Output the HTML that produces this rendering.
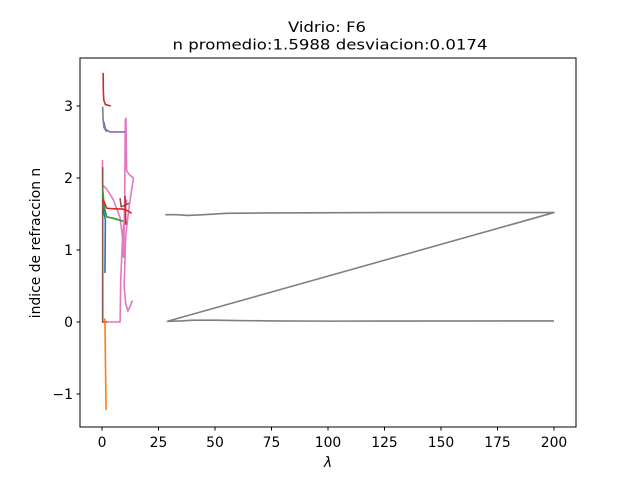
<!DOCTYPE html>
<html><head><meta charset="utf-8">
<style>body{margin:0;background:#fff}svg{display:block;font-family:"DejaVu Sans","Liberation Sans",sans-serif}</style>
</head><body>
<svg id="c" width="640" height="480"></svg>
<script>
const xTicks=[0,25,50,75,100,125,150,175,200];
const yTicks=[-1,0,1,2,3];
const yTickLabels=["−1","0","1","2","3"];
const redTopX=[0.5,0.6,0.8,1.5,3.9], redTopY=[3.46,3.2,3.08,3.02,3.0];
const grayTopX=[0.3,0.5,0.9,2.1], grayTopY=[2.99,2.8,2.7,2.64];
const purpleX=[0.9,1.5,3.5,10.2], purpleY=[2.78,2.68,2.64,2.64];
const pinkAX=[0.2,0.3,2,5,8,9,9.5,10,10.3,10.6,10.9,12,13.9,12,10.5,9.8,10.5,11.5,13.5];
const pinkAY=[2.25,1.9,1.85,1.7,1.45,1.2,0.9,1.6,2.8,2.83,2.1,2.05,2.0,1.6,1.2,0.5,0.25,0.15,0.3];
const pinkBX=[0.2,0.3,0.3,8,8.3,9,10,11];
const pinkBY=[0.7,0.7,0,0,0.6,1.1,1.5,1.7];
const brownX=[0.3,0.3,0.3,2.2], brownY=[2.15,1.3,0,0];
const brown2X=[8,8.5,10,12], brown2Y=[1.72,1.6,1.62,1.65];
const redMidX=[0.5,2.1,6,9,11,13.1], redMidY=[1.7,1.58,1.57,1.57,1.55,1.51];
const redVX=[10.2,10.4,10.5], redVY=[1.75,1.55,1.35];
const greenX=[0.3,1,2.1,5,9.3], greenY=[1.85,1.6,1.46,1.44,1.4];
const blueX=[0.5,1,1.5,1.3], blueY=[1.6,1.5,1.42,0.68];
const orangeX=[1.2,1.3,1.8], orangeY=[0.05,0.0,-1.22];
const grayBigX=[28,33,38,45,55,75,125,200,29,35,40,50,60,75,100,200];
const grayBigY=[1.49,1.49,1.48,1.49,1.51,1.515,1.52,1.52,0.01,0.015,0.025,0.025,0.02,0.015,0.012,0.015];
const series=[
 ["gray-big",grayBigX,grayBigY,"#7f7f7f"],
 ["pink-a",pinkAX,pinkAY,"#e377c2"],["pink-b",pinkBX,pinkBY,"#e377c2"],
 ["brown",brownX,brownY,"#8c564b"],["brown-2",brown2X,brown2Y,"#8c564b"],
 ["orange",orangeX,orangeY,"#ff7f0e"],["blue",blueX,blueY,"#1f77b4"],
 ["green",greenX,greenY,"#2ca02c"],["red-mid",redMidX,redMidY,"#d62728"],["red-v",redVX,redVY,"#d62728"],
 ["red-top",redTopX,redTopY,"#d62728"],["gray-top",grayTopX,grayTopY,"#7f7f7f"],["purple",purpleX,purpleY,"#9467bd"]];
const L=80,R=576,T=58,B=427;
const sx=v=>102+(v-0)*(554-102)/200;
const sy=v=>322-v*72;
const svg=document.getElementById('c');const NS="http://www.w3.org/2000/svg";
function mk(t,a,p){const e=document.createElementNS(NS,t);for(const k in a)e.setAttribute(k,a[k]);(p||svg).appendChild(e);return e;}
const clip=mk('clipPath',{id:'cp'});mk('rect',{x:L,y:T,width:R-L,height:B-T},clip);
const g=mk('g',{'clip-path':'url(#cp)'});

series.forEach(s=>{const p=mk('polyline',{points:s[1].map((x,i)=>sx(x)+','+sy(s[2][i])).join(' '),fill:'none',stroke:s[3],'stroke-width':1.6,'stroke-linejoin':'round'},g);

});
const f=mk('rect',{x:L,y:T,width:R-L,height:B-T,fill:'none',stroke:'#000','stroke-width':1});

xTicks.forEach(v=>{const x=sx(v);mk('line',{x1:x,x2:x,y1:B,y2:B+3.5,stroke:'#000'});
const t=mk('text',{x:x,y:B+20,'font-size':13.9,'text-anchor':'middle'});t.textContent=v;
});
yTicks.forEach((v,i)=>{const y=sy(v);mk('line',{x1:L-3.5,x2:L,y1:y,y2:y,stroke:'#000'});
const t=mk('text',{x:L-7,y:y+5,'font-size':13.9,'text-anchor':'end'});t.textContent=yTickLabels[i];
});
</script>
<svg width="640" height="480" style="position:absolute;left:0;top:0">
<text x="327" y="32" font-size="14" text-anchor="middle" textLength="78" lengthAdjust="spacingAndGlyphs">Vidrio: F6</text>
<text x="330" y="49.5" font-size="14" text-anchor="middle" textLength="315" lengthAdjust="spacingAndGlyphs">n promedio:1.5988 desviacion:0.0174</text>
<text x="328" y="467" font-size="13.9" font-style="italic" text-anchor="middle">λ</text>
<text x="40" y="243" font-size="13.9" text-anchor="middle" transform="rotate(-90 40 243)">indice de refraccion n</text>
</svg>
</body></html>
